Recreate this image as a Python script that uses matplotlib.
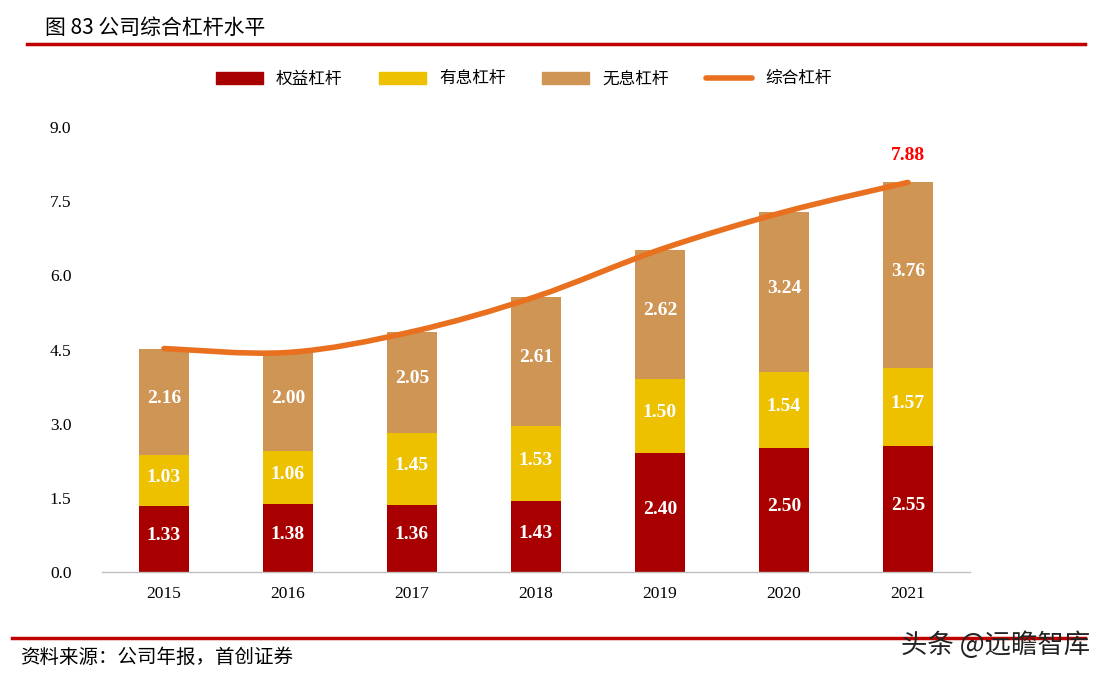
import matplotlib
matplotlib.use("Agg")
import matplotlib.pyplot as plt
from matplotlib.path import Path
from matplotlib.patches import PathPatch, Patch
from matplotlib.lines import Line2D
import numpy as np

years = ["2015", "2016", "2017", "2018", "2019", "2020", "2021"]
equity = [1.33, 1.38, 1.36, 1.43, 2.40, 2.50, 2.55]
interest = [1.03, 1.06, 1.45, 1.53, 1.50, 1.54, 1.57]
noninterest = [2.16, 2.00, 2.05, 2.61, 2.62, 3.24, 3.76]
combined = [4.52, 4.44, 4.86, 5.57, 6.52, 7.28, 7.88]
yticks = [0.0, 1.5, 3.0, 4.5, 6.0, 7.5, 9.0]
series_names = ["权益杠杆", "有息杠杆", "无息杠杆", "综合杠杆"]

C_EQ = "#A80000"
C_INT = "#EDC000"
C_NON = "#CE9554"
C_LINE = "#E8701E"

CJK = ["Noto Sans CJK SC", "DejaVu Sans"]
SERIF = "Liberation Serif"

fig = plt.figure(figsize=(11.07, 6.77), dpi=100)
ax = fig.add_axes([102/1107, 1-572/677, (970-102)/1107, (572-127)/677])

x = np.arange(len(years))
w = 0.40
ax.bar(x, equity, w, color=C_EQ, zorder=2)
b2 = np.array(equity)
ax.bar(x, interest, w, bottom=b2, color=C_INT, zorder=2)
b3 = b2 + np.array(interest)
ax.bar(x, noninterest, w, bottom=b3, color=C_NON, zorder=2)

for i in range(len(years)):
    segs = [(0, equity[i]), (b2[i], interest[i]), (b3[i], noninterest[i])]
    for base, v in segs:
        ax.text(x[i], base + v/2 + 0.07, f"{v:.2f}", ha="center", va="center",
                color="white", fontweight="bold", fontsize=14, family=SERIF, zorder=4)

# smooth line (Catmull-Rom to Bezier)
pts = np.column_stack([x, combined]).astype(float)
verts = [pts[0]]
codes = [Path.MOVETO]
n = len(pts)
for i in range(n-1):
    p0 = pts[i-1] if i > 0 else pts[i]
    p1 = pts[i]
    p2 = pts[i+1]
    p3 = pts[i+2] if i+2 < n else pts[i+1]
    c1 = p1 + (p2 - p0)/6
    c2 = p2 - (p3 - p1)/6
    verts += [c1, c2, p2]
    codes += [Path.CURVE4]*3
path = Path(verts, codes)
ax.add_patch(PathPatch(path, facecolor="none", edgecolor=C_LINE, lw=4,
                       capstyle="round", zorder=3))

ax.text(x[-1], combined[-1] + 0.55, f"{combined[-1]:.2f}", ha="center", va="center",
        color="#FF0000", fontweight="bold", fontsize=14, family=SERIF)

ax.set_xlim(-0.5, len(years)-0.5)
ax.set_ylim(0, 9.0)
ax.set_yticks(yticks)
ax.set_yticklabels([f"{v:.1f}" for v in yticks], family=SERIF, fontsize=12.5)
ax.set_xticks(x)
ax.set_xticklabels(years, family=SERIF, fontsize=12.5)
ax.tick_params(axis="both", length=0, pad=10)
ax.tick_params(axis="y", pad=22)
for s in ["top", "right", "left"]:
    ax.spines[s].set_visible(False)
ax.spines["bottom"].set_color("#BFBFBF")
ax.spines["bottom"].set_linewidth(1)

handles = [Patch(color=C_EQ), Patch(color=C_INT), Patch(color=C_NON),
           Line2D([0], [0], color=C_LINE, lw=4, solid_capstyle="round")]
fig.legend(handles, series_names, loc="center", bbox_to_anchor=(524/1107, 1-79/677),
           ncol=4, frameon=False, prop={"family": CJK, "size": 12},
           handlelength=2.8, handleheight=0.7, columnspacing=2.2, handletextpad=0.8)

# title and decorative lines
fig.text(45/1107, 1-28/677, "图 83 公司综合杠杆水平", family=CJK, fontsize=15,
         va="center", ha="left")
fig.add_artist(Line2D([27/1107, 1085/1107], [1-44/677, 1-44/677], color="#C00000", lw=2.5))
fig.add_artist(Line2D([12/1107, 1085/1107], [1-638/677, 1-638/677], color="#C00000", lw=2.5))
fig.text(20/1107, 1-657/677, "资料来源：公司年报，首创证券", family=CJK, fontsize=14,
         style="italic", va="center", ha="left")
fig.text(1090/1107, 1-645/677, "头条 @远瞻智库", family=CJK, fontsize=19,
         va="center", ha="right", color="#222222")

fig.savefig("out.png", dpi=100)
